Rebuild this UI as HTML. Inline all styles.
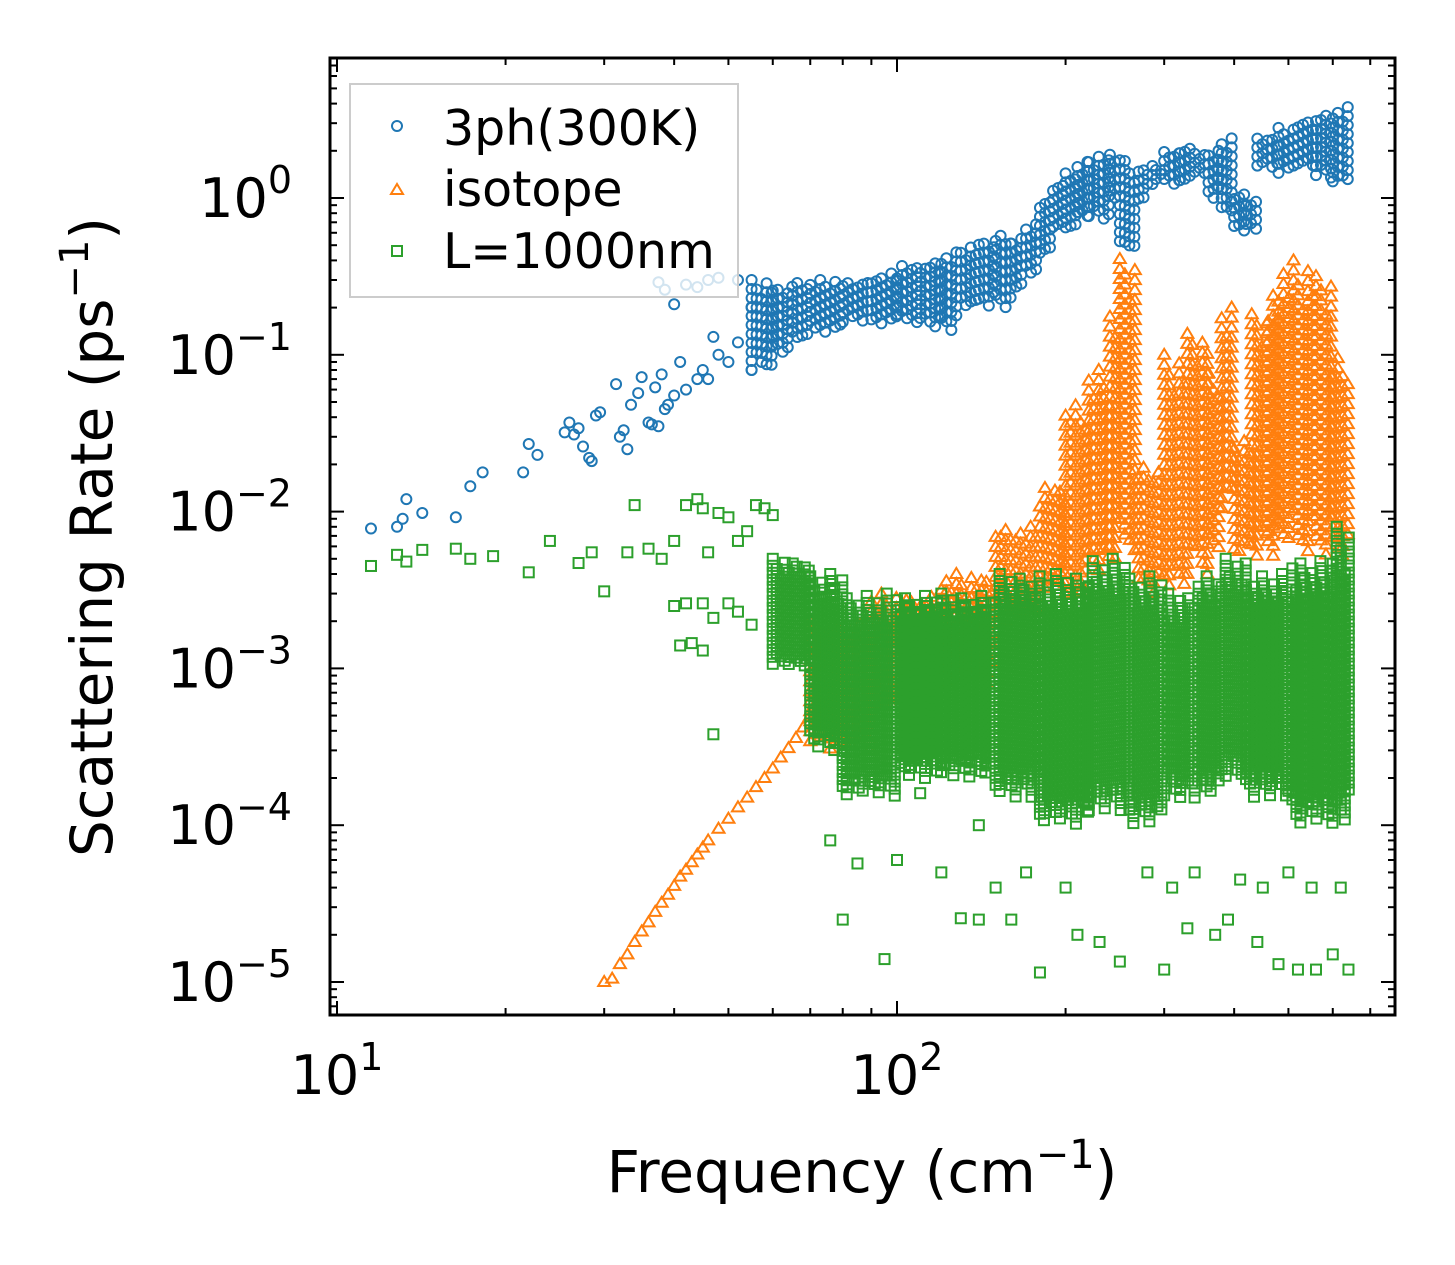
<!DOCTYPE html>
<html><head><meta charset="utf-8"><style>
body{margin:0;background:#fff}
svg{display:block;font-family:"DejaVu Sans","Liberation Sans",sans-serif}
</style></head><body>
<svg id="chart" width="1455" height="1265" viewBox="0 0 1455 1265" xmlns="http://www.w3.org/2000/svg">
<g id="marks"></g>
<g id="axes"></g>
<rect x="330" y="58" width="1065" height="957" fill="none" stroke="#000" stroke-width="3"/>
<text x="862" y="1192" font-size="58" text-anchor="middle">Frequency (cm<tspan dy="-24" font-size="40">−1</tspan><tspan dy="24">)</tspan></text>
<text transform="translate(112,537) rotate(-90)" font-size="58" text-anchor="middle">Scattering Rate (ps<tspan dy="-24" font-size="40">−1</tspan><tspan dy="24">)</tspan></text>
<g>
<rect x="350" y="84" width="388" height="213" fill="#fff" fill-opacity="0.8" stroke="#ccc" stroke-width="2"/>
<g><circle cx="397" cy="126" r="5" fill="none" stroke="#1f77b4" stroke-width="2"/><text x="443" y="145" font-size="49">3ph(300K)</text></g>
<g><path d="M391,194 L403,194 L397,184 Z" fill="none" stroke="#ff7f0e" stroke-width="2"/><text x="443" y="206" font-size="49">isotope</text></g>
<g><rect x="392" y="246" width="10" height="10" fill="none" stroke="#2ca02c" stroke-width="2"/><text x="443" y="268" font-size="49">L=1000nm</text></g>
</g>
</svg>
<script>
// ---- data ----
const xTicks=[10,100];
const xTickLabels=["10","10"];
const xTickExp=["1","2"];
const yTicks=[1,0.1,0.01,0.001,0.0001,0.00001];
const yTickExp=["0","−1","−2","−3","−4","−5"];
// 3ph scattered low-frequency points
const bF=[11.5,12.8,13.1,13.3,14.2,16.3,17.3,18.2,21.5,22,22.8,25.5,26,26.5,27,27.5,28.2,28.5,29,29.5,31.5,32,32.5,33,33.5,34.5,35,36,36.5,37,37.5,38,38.5,39,40,41,42,44,45,46,47,48,50,52,55,37.5,38.5,40,42,44,46,48,52,55];
const bV=[0.0078,0.008,0.009,0.012,0.0098,0.0092,0.0145,0.0178,0.0178,0.027,0.023,0.032,0.037,0.031,0.034,0.026,0.022,0.021,0.041,0.043,0.065,0.030,0.033,0.025,0.048,0.057,0.072,0.037,0.036,0.062,0.035,0.075,0.045,0.048,0.055,0.09,0.06,0.07,0.08,0.07,0.13,0.10,0.09,0.12,0.08,0.29,0.26,0.21,0.28,0.27,0.30,0.31,0.30,0.20];
// 3ph dense band (bin start freq, low, high)
const bBinF=[55,60,65,70,80,90,100,110,120,130,140,150,160,170,180,190,200,210,220,240,250,260,270,280,290,300,320,340,360,380,400,420,440,480,520,560,600,645];
const bLo=[0.08,0.1,0.12,0.14,0.16,0.15,0.16,0.15,0.14,0.2,0.2,0.2,0.25,0.3,0.4,0.6,0.6,0.7,0.7,0.9,0.5,0.4,0.9,1.1,1.3,1.2,1.2,1.3,1.0,0.8,0.6,0.6,1.5,1.4,1.5,1.3,1.2,1.2];
const bHi=[0.3,0.28,0.3,0.3,0.3,0.33,0.38,0.4,0.45,0.5,0.55,0.6,0.55,0.7,1.0,1.3,1.5,1.7,1.9,2.0,2.0,1.5,1.6,1.6,1.6,2.0,2.2,2.0,2.0,2.5,1.1,1.0,2.5,2.8,3.2,3.5,3.8,3.8];
// isotope low-frequency line
const oF=[30,31,32,33,34,35,36,37,38,39,40,41,42,43,44,45,46,48,50,52,54,56,58,60,62,64,66,68,70];
const oV=[1e-5,1.05e-5,1.3e-5,1.5e-5,1.8e-5,2.1e-5,2.4e-5,2.8e-5,3.2e-5,3.6e-5,4.1e-5,4.7e-5,5.2e-5,5.8e-5,6.5e-5,7.2e-5,8e-5,9.5e-5,1.1e-4,1.3e-4,1.5e-4,1.75e-4,2e-4,2.3e-4,2.7e-4,3.1e-4,3.6e-4,4.2e-4,5e-4];
// isotope dense band
const oBinF=[70,90,120,150,180,200,220,240,250,270,300,330,360,380,400,430,460,480,520,560,600,645];
const oLo=[3e-4,5e-4,8e-4,2e-3,3e-3,3e-3,4e-3,5e-3,5e-3,3e-3,3e-3,4e-3,5e-3,1e-2,5e-3,5e-3,5e-3,6e-3,5e-3,5e-3,5e-3,5e-3];
const oHi=[2e-3,3e-3,4e-3,8e-3,1.5e-2,0.05,0.08,0.2,0.45,0.02,0.1,0.15,0.08,0.2,0.03,0.2,0.25,0.4,0.4,0.35,0.1,0.1];
// boundary scattered points
const gF=[11.5,12.8,13.3,14.2,16.3,17.3,19,22,24,27,28.5,30,33,34,36,38,40,42,44,45,46,48,50,52,54,56,58,60,40,42,45,47,50,52,55,41,43,45,47,80,95,130,140,160,180,210,230,250,300,330,370,390,440,480,520,560,600,640,76,85,100,120,150,170,200,280,310,340,410,450,500,550,620,80,110,140];
const gV=[0.0045,0.0053,0.0048,0.0057,0.0058,0.0050,0.0052,0.0041,0.0065,0.0047,0.0055,0.0031,0.0055,0.011,0.0058,0.005,0.0065,0.011,0.012,0.0105,0.0055,0.0098,0.0092,0.0065,0.0075,0.011,0.0105,0.0095,0.0025,0.0026,0.0026,0.0021,0.0026,0.0023,0.0019,0.0014,0.00145,0.0013,0.00038,0.000025,0.000014,0.0000255,0.000025,0.000025,0.0000115,0.00002,0.000018,0.0000135,0.000012,0.000022,0.00002,0.000025,0.000018,0.000013,0.000012,0.000012,0.000015,0.000012,0.00008,0.000057,0.00006,0.00005,0.00004,0.00005,0.00004,0.00005,0.00004,0.00005,0.000045,0.00004,0.00005,0.00004,0.00004,0.00028,0.00016,0.0001];
// boundary dense band
const gBinF=[60,70,80,100,120,150,180,220,260,300,340,380,420,500,600,645];
const gLo=[1e-3,3e-4,1.5e-4,2e-4,2e-4,1.5e-4,1e-4,1.2e-4,1e-4,1.5e-4,1.5e-4,2e-4,1.5e-4,1e-4,1e-4,1e-4];
const gHi=[5e-3,4e-3,3e-3,3e-3,3e-3,4e-3,4e-3,5e-3,4e-3,3e-3,4e-3,5e-3,4e-3,5e-3,8e-3,8e-3];

// ---- axes ----
const X0=337,XD=560,Y0=198,YD=156.8;
const xs=f=>X0+XD*Math.log10(f/10);
const ys=v=>Y0-YD*Math.log10(v);
const NS="http://www.w3.org/2000/svg";
const marks=document.getElementById('marks'), axes=document.getElementById('axes');
function el(t,a,p){const e=document.createElementNS(NS,t);for(const k in a)e.setAttribute(k,a[k]);p.appendChild(e);return e;}

function circ(f,v,name){const e=el('circle',{cx:xs(f),cy:ys(v),r:5,fill:'none',stroke:'#1f77b4','stroke-width':2},marks);

}
function tri(f,v,name){const x=xs(f),y=ys(v);const e=el('path',{d:`M${x-6},${y+4} L${x+6},${y+4} L${x},${y-6} Z`,fill:'none',stroke:'#ff7f0e','stroke-width':2},marks);

}
function sq(f,v,name){const e=el('rect',{x:xs(f)-5,y:ys(v)-5,width:10,height:10,fill:'none',stroke:'#2ca02c','stroke-width':2},marks);

}
function band(F,L,H,fn,name,dx,dy){
 let k=0;
 for(let i=0;i<F.length-1;i++){
  const x1=xs(F[i]),x2=xs(F[i+1]);const yl=ys(L[i]),yh=ys(H[i]);
  const span=yl-yh;
  for(let x=x1;x<x2;x+=dx){
   const top=yh+span*0.18*((k*7)%5)/5, bot=yl-span*0.15*((k*3)%4)/4;
   for(let y=top+((k%3)*dy/3);y<=bot;y+=dy){
     const f=10*Math.pow(10,(x-X0)/XD), v=Math.pow(10,(Y0-y)/YD);
     fn(f,v,name);
   }
   k++;
  }
 }
}
band(bBinF,bLo,bHi,circ,'ph3-point',5,9);
bF.forEach((f,i)=>circ(f,bV[i],'ph3-point'));
band(oBinF,oLo,oHi,tri,'isotope-point',5,10);
oF.forEach((f,i)=>tri(f,oV[i],'isotope-point'));
band(gBinF,gLo,gHi,sq,'boundary-point',4,7);
gF.forEach((f,i)=>sq(f,gV[i],'boundary-point'));

// ticks
const T=58,B=1015,L=330,R=1395;
for(let d=1;d<=2;d++){for(let m=1;m<10;m++){const f=Math.pow(10,d)*m;const x=xs(f);if(x<L||x>R)continue;
 const len=m===1?14:7;
 el('line',{x1:x,x2:x,y1:B,y2:B-len,stroke:'#000','stroke-width':2},axes);
 el('line',{x1:x,x2:x,y1:T,y2:T+len,stroke:'#000','stroke-width':2},axes);}}
xTicks.forEach((f,i)=>{const t=el('text',{x:xs(f),y:1094,'font-size':54,'text-anchor':'middle'},axes);
 
 
 t.innerHTML=xTickLabels[i]+'<tspan dy="-24" font-size="38">'+xTickExp[i]+'</tspan>';});
for(let e=-6;e<=0;e++){for(let m=1;m<10;m++){const v=Math.pow(10,e)*m;const y=ys(v);if(y<T||y>B)continue;
 const len=m===1?14:7;
 el('line',{x1:L,x2:L+len,y1:y,y2:y,stroke:'#000','stroke-width':2},axes);
 el('line',{x1:R,x2:R-len,y1:y,y2:y,stroke:'#000','stroke-width':2},axes);}}
yTicks.forEach((v,i)=>{const t=el('text',{x:292,y:ys(v)+19,'font-size':54,'text-anchor':'end'},axes);
 
 
 t.innerHTML='10<tspan dy="-24" font-size="38">'+yTickExp[i]+'</tspan>';});
</script>
</body></html>
